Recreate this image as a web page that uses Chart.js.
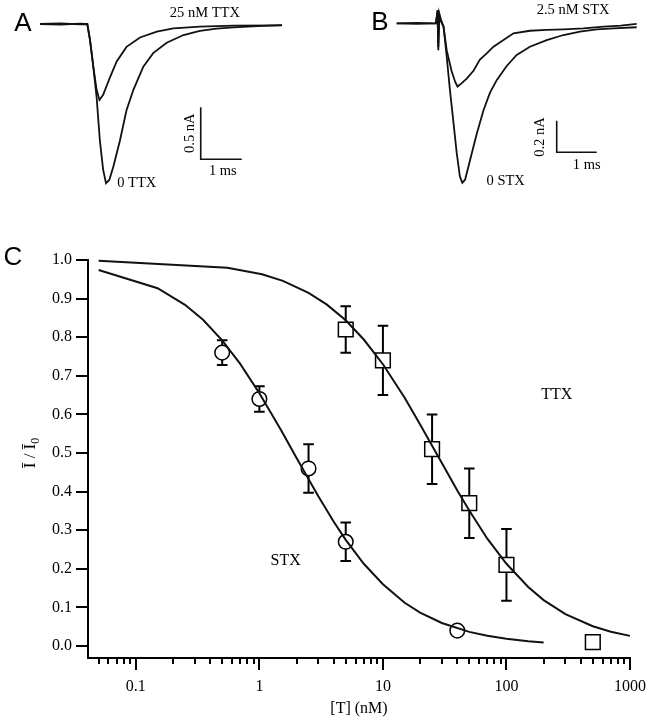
<!DOCTYPE html>
<html><head><meta charset="utf-8">
<script src="https://cdn.jsdelivr.net/npm/chart.js@4.4.0/dist/chart.umd.min.js"></script>
<style>
html,body{margin:0;padding:0;background:#fff;}
#wrap{position:relative;width:653px;height:720px;overflow:hidden;background:#fff;}
canvas{position:absolute;}
</style></head><body>
<div id="wrap">
<canvas id="cA" width="330" height="200" style="left:0;top:0"></canvas>
<canvas id="cB" width="323" height="200" style="left:330px;top:0"></canvas>
<canvas id="cC" width="653" height="490" style="left:0;top:230px"></canvas>
</div>
<script>
// ---------- Panel A: Na current traces, control vs 25 nM TTX (time in ms, current in nA)
const timeA0 = [0, 0.5, 1.0, 1.154, 1.22, 1.30, 1.38, 1.46, 1.54, 1.61, 1.69, 1.79, 1.95, 2.11, 2.28, 2.52, 2.76, 3.09, 3.50, 3.90, 4.31, 4.72, 5.3, 5.90];
const currA0 = [0, 0.005, -0.003, 0, -0.154, -0.41, -0.70, -1.12, -1.40, -1.53, -1.50, -1.37, -1.12, -0.83, -0.63, -0.41, -0.28, -0.18, -0.106, -0.067, -0.045, -0.032, -0.02, -0.01];
const timeA25 = [0, 0.5, 1.0, 1.154, 1.22, 1.30, 1.38, 1.45, 1.54, 1.71, 1.87, 2.11, 2.44, 2.85, 3.25, 3.90, 4.72, 5.90];
const currA25 = [0, -0.005, 0.003, 0, -0.154, -0.41, -0.63, -0.73, -0.68, -0.51, -0.36, -0.22, -0.13, -0.074, -0.042, -0.026, -0.016, -0.013];
const scaleBarA_t = [3.92, 3.92, 4.92];
const scaleBarA_I = [-0.80, -1.30, -1.30];

// ---------- Panel B: control vs 2.5 nM STX
const timeB0 = [0, 0.5, 0.98, 1.02, 1.04, 1.065, 1.11, 1.17, 1.25, 1.33, 1.42, 1.50, 1.58, 1.64, 1.71, 1.83, 2.0, 2.17, 2.33, 2.5, 2.75, 3.0, 3.33, 3.75, 4.17, 4.58, 5.0, 5.42, 6.0];
const currB0 = [0, 0.003, 0, 0.084, -0.17, 0.063, 0.02, -0.02, -0.21, -0.42, -0.63, -0.82, -0.97, -1.01, -0.99, -0.87, -0.70, -0.55, -0.44, -0.36, -0.27, -0.20, -0.148, -0.106, -0.074, -0.053, -0.038, -0.032, -0.025];
const timeB25 = [0, 0.5, 0.98, 1.02, 1.04, 1.065, 1.11, 1.17, 1.25, 1.37, 1.46, 1.52, 1.62, 1.75, 1.92, 2.08, 2.25, 2.42, 2.67, 2.92, 3.33, 3.75, 4.17, 4.67, 5.17, 5.6, 6.0];
const currB25 = [0, -0.003, 0, 0.07, -0.15, 0.05, 0.01, -0.02, -0.17, -0.30, -0.37, -0.40, -0.38, -0.35, -0.30, -0.23, -0.19, -0.148, -0.106, -0.063, -0.047, -0.042, -0.038, -0.032, -0.021, -0.015, -0.004];
const scaleBarB_t = [4.0, 4.0, 5.0];
const scaleBarB_I = [-0.616, -0.816, -0.816];

// ---------- Panel C: dose-response
const stxConc = [0.5, 1, 2.5, 5, 40];
const stxMean = [0.76, 0.64, 0.46, 0.27, 0.04];
const stxErr  = [0.032, 0.033, 0.063, 0.05, 0];
const ttxConc = [5, 10, 25, 50, 100, 500];
const ttxMean = [0.82, 0.74, 0.51, 0.37, 0.21, 0.01];
const ttxErr  = [0.06, 0.09, 0.09, 0.09, 0.093, 0];
const stxFitX = [0.05, 0.15, 0.25, 0.35, 0.5, 0.7, 1, 1.5, 2, 3, 4, 5, 7, 10, 15, 20, 30, 50, 70, 100, 150, 200];
const stxFitY = [0.974, 0.927, 0.884, 0.845, 0.792, 0.731, 0.655, 0.559, 0.487, 0.388, 0.322, 0.275, 0.213, 0.160, 0.112, 0.0867, 0.0596, 0.0366, 0.0264, 0.0187, 0.0125, 0.0094];
const ttxFitX = [0.05, 0.55, 1.05, 1.55, 2.5, 3.5, 5, 7, 10, 15, 20, 30, 40, 50, 70, 100, 150, 200, 300, 500, 700, 1000];
const ttxFitY = [0.998, 0.980, 0.963, 0.946, 0.915, 0.885, 0.844, 0.794, 0.730, 0.643, 0.574, 0.474, 0.403, 0.351, 0.278, 0.213, 0.153, 0.119, 0.0826, 0.0512, 0.0371, 0.0263];
const xTickValues = [0.1, 1, 10, 100, 1000];
const yTickValues = [0, 0.1, 0.2, 0.3, 0.4, 0.5, 0.6, 0.7, 0.8, 0.9, 1.0];

const SERIF = "'Liberation Serif','Times New Roman',serif";
const SANS = "'Liberation Sans',Arial,sans-serif";
const zip = (xs, ys) => xs.map((v, i) => ({x: v, y: ys[i]}));

function textPlugin(id, items) {
  return {
    id,
    afterDraw(chart) {
      const ctx = chart.ctx;
      const sx = chart.scales.x, sy = chart.scales.y;
      items.forEach(it => {
        const px = it.px !== undefined ? it.px : sx.getPixelForValue(it.x);
        const py = it.py !== undefined ? it.py : sy.getPixelForValue(it.y);
        ctx.save();
        ctx.translate(px, py);
        if (it.rot) ctx.rotate(it.rot);
        ctx.fillStyle = '#000';
        ctx.textBaseline = 'middle';
        if (it.sub) {
          ctx.font = it.font;
          const w1 = ctx.measureText(it.text).width;
          ctx.font = it.subFont;
          const w2 = ctx.measureText(it.sub).width;
          const x0 = -(w1 + w2) / 2;
          ctx.textAlign = 'left';
          ctx.font = it.font;
          ctx.fillText(it.text, x0, 0);
          ctx.font = it.subFont;
          ctx.fillText(it.sub, x0 + w1, 5);
        } else {
          ctx.font = it.font;
          ctx.textAlign = it.align || 'center';
          ctx.fillText(it.text, 0, 0);
        }
        ctx.restore();
      });
    }
  };
}

function lineDS(data, w) {
  return {data, borderColor: '#111', borderWidth: w, pointRadius: 0, fill: false, tension: 0, clip: false, showLine: true};
}

function traceChart(id, datasets, xr, yr, pad, labels, pid) {
  return new Chart(document.getElementById(id), {
    type: 'scatter',
    data: {datasets},
    options: {
      responsive: false, animation: false, devicePixelRatio: 1,
      layout: {padding: pad},
      plugins: {legend: {display: false}, tooltip: {enabled: false}},
      scales: {
        x: {type: 'linear', display: false, min: xr[0], max: xr[1]},
        y: {type: 'linear', display: false, min: yr[0], max: yr[1]}
      }
    },
    plugins: [textPlugin(pid, labels)]
  });
}

const f14 = '14.5px ' + SERIF;
traceChart('cA', [
  lineDS(zip(timeA0, currA0), 1.8),
  lineDS(zip(timeA25, currA25), 1.8),
  lineDS(zip(scaleBarA_t, scaleBarA_I), 1.6)
], [0, 7], [-1.6, 0.2], {left: 40, right: 3, top: 3.2, bottom: 9.6}, [
  {text: 'A', x: -0.415, y: 0, font: '26px ' + SANS},
  {text: '25 nM TTX', x: 4.02, y: 0.106, font: f14},
  {text: '0 TTX', x: 2.36, y: -1.53, font: f14},
  {text: '0.5 nA', x: 3.66, y: -1.05, font: f14, rot: -Math.PI / 2},
  {text: '1 ms', x: 4.46, y: -1.42, font: f14}
], 'txtA');

traceChart('cB', [
  lineDS(zip(timeB0, currB0), 1.8),
  lineDS(zip(timeB25, currB25), 1.8),
  lineDS(zip(scaleBarB_t, scaleBarB_I), 1.6)
], [0, 6.3], [-1.1, 0.14], {left: 66.7, right: 4.3, top: 1.2, bottom: 2.9}, [
  {text: 'B', x: -0.42, y: 0, font: '26px ' + SANS},
  {text: '2.5 nM STX', x: 4.41, y: 0.084, font: f14},
  {text: '0 STX', x: 2.725, y: -1.0, font: f14},
  {text: '0.2 nA', x: 3.58, y: -0.72, font: f14, rot: -Math.PI / 2},
  {text: '1 ms', x: 4.75, y: -0.90, font: f14}
], 'txtB');

// minor ticks for log axis
const minorTicks = [];
for (let e = -2; e <= 2; e++) for (let m = 2; m <= 9; m++) { const v = m * Math.pow(10, e); if (v >= 0.045 && v < 1000) minorTicks.push(v); }

const minorTickPlugin = {
  id: 'minorTicks',
  afterDraw(chart) {
    const {ctx, chartArea} = chart; const sx = chart.scales.x;
    ctx.save(); ctx.strokeStyle = '#000'; ctx.lineWidth = 2;
    minorTicks.forEach(v => {
      const px = Math.round(sx.getPixelForValue(v));
      ctx.beginPath(); ctx.moveTo(px, chartArea.bottom); ctx.lineTo(px, chartArea.bottom + 6); ctx.stroke();
    });
    ctx.restore();
  }
};

const errorBarPlugin = {
  id: 'errBars',
  beforeDatasetsDraw(chart) {
    const {ctx} = chart; const sx = chart.scales.x, sy = chart.scales.y;
    ctx.save(); ctx.strokeStyle = '#000'; ctx.lineWidth = 2;
    [[stxConc, stxMean, stxErr], [ttxConc, ttxMean, ttxErr]].forEach(([xs, ms, es]) => {
      xs.forEach((c, i) => {
        if (!es[i]) return;
        const px = sx.getPixelForValue(c);
        const top = sy.getPixelForValue(ms[i] + es[i]);
        const bot = sy.getPixelForValue(ms[i] - es[i]);
        ctx.beginPath();
        ctx.moveTo(px, top); ctx.lineTo(px, bot);
        ctx.moveTo(px - 5.3, top); ctx.lineTo(px + 5.3, top);
        ctx.moveTo(px - 5.3, bot); ctx.lineTo(px + 5.3, bot);
        ctx.stroke();
      });
    });
    ctx.restore();
  }
};

new Chart(document.getElementById('cC'), {
  type: 'scatter',
  data: {datasets: [
    Object.assign(lineDS(zip(stxFitX, stxFitY), 2), {order: 0, label: 'STX fit'}),
    Object.assign(lineDS(zip(ttxFitX, ttxFitY), 2), {order: 0, label: 'TTX fit'}),
    {label: 'STX', data: zip(stxConc, stxMean), order: 1, pointStyle: 'circle', pointRadius: 7.3, backgroundColor: '#fff', borderColor: '#000', borderWidth: 1.5, showLine: false},
    {label: 'TTX', data: zip(ttxConc, ttxMean), order: 1, pointStyle: 'rect', pointRadius: 10.4, backgroundColor: '#fff', borderColor: '#000', borderWidth: 1.5, showLine: false}
  ]},
  options: {
    responsive: false, animation: false, devicePixelRatio: 1,
    layout: {padding: {left: 0, right: 19, top: 30, bottom: 0}},
    plugins: {legend: {display: false}, tooltip: {enabled: false}},
    scales: {
      x: {
        type: 'logarithmic', min: 0.041, max: 1000,
        afterBuildTicks: s => { s.ticks = xTickValues.map(v => ({value: v})); },
        afterFit: s => { s.height = 62; },
        ticks: {callback: v => String(v), color: '#000', font: {family: SERIF, size: 16}, padding: 7, maxRotation: 0, autoSkip: false},
        grid: {display: true, drawOnChartArea: false, drawTicks: true, tickLength: 12, color: '#000', lineWidth: 2},
        border: {display: true, color: '#000', width: 2},
        title: {display: true, text: '[T] (nM)', color: '#000', font: {family: SERIF, size: 16}, padding: {top: 0, bottom: 2}}
      },
      y: {
        type: 'linear', min: -0.031, max: 1.0,
        afterBuildTicks: s => { s.ticks = yTickValues.map(v => ({value: v})); },
        afterFit: s => { s.width = 88; },
        ticks: {callback: v => v.toFixed(1), color: '#000', font: {family: SERIF, size: 16}, padding: 4, autoSkip: false},
        grid: {display: true, drawOnChartArea: false, drawTicks: true, tickLength: 12, color: '#000', lineWidth: 2},
        border: {display: true, color: '#000', width: 2},
        title: {display: false, text: 'Ī / Ī0'}
      }
    }
  },
  plugins: [errorBarPlugin, minorTickPlugin, textPlugin('txtC', [
    {text: 'C', px: 13, py: 28, font: '26px ' + SANS},
    {text: 'Ī / Ī', sub: '0', px: 31, py: 223, rot: -Math.PI / 2, font: '17px ' + SERIF, subFont: '12px ' + SERIF},
    {text: 'TTX', x: 255, y: 0.65, font: '16px ' + SERIF},
    {text: 'STX', x: 1.63, y: 0.22, font: '16px ' + SERIF}
  ])]
});
</script>
</body></html>
